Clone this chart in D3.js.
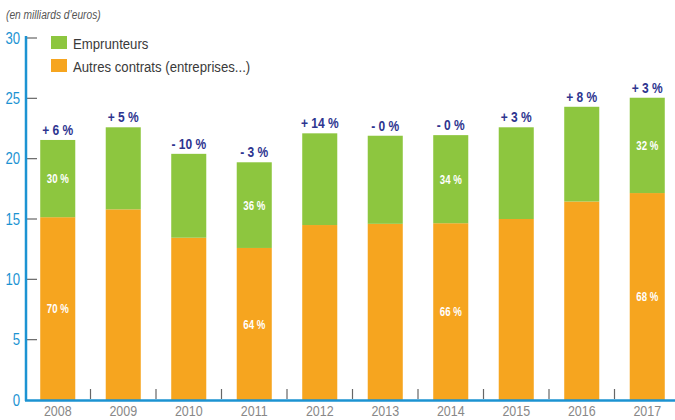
<!DOCTYPE html>
<html><head><meta charset="utf-8">
<script src="https://cdn.jsdelivr.net/npm/d3@7"></script>
<style>
body{margin:0;background:#fff}
text{font-family:"Liberation Sans","Arial",sans-serif}
</style></head>
<body><svg id="c" width="675" height="420"></svg>
<script>
const years = ["2008","2009","2010","2011","2012","2013","2014","2015","2016","2017"];
const autres = [15.15, 15.8, 13.45, 12.6, 14.5, 14.6, 14.65, 15.0, 16.45, 17.15];
const emprunteurs = [6.4, 6.8, 6.95, 7.1, 7.6, 7.3, 7.3, 7.6, 7.85, 7.9];
const changeLabels = ["+ 6 %","+ 5 %","- 10 %","- 3 %","+ 14 %","- 0 %","- 0 %","+ 3 %","+ 8 %","+ 3 %"];
const emprPct = ["30 %","","","36 %","","","34 %","","","32 %"];
const autresPct = ["70 %","","","64 %","","","66 %","","","68 %"];
const yTicks = [0,5,10,15,20,25,30];
const seriesNames = ["Emprunteurs","Autres contrats (entreprises...)"];

const C_GREEN="#8dc63f", C_ORANGE="#f6a51f", C_NAVY="#2e3590", C_BLUE="#1c93d2";

// condense text glyphs horizontally (condensed typeface look)
function condense(sel, f){
  sel.each(function(){
    const w = this.getComputedTextLength();
    d3.select(this).attr("textLength", w*f).attr("lengthAdjust","spacingAndGlyphs");
  });
}

const svg = d3.select("#c");
const y = d3.scaleLinear().domain([0,30]).range([400,38]);
const x = d3.scaleBand().domain(years).range([25,680]).paddingInner(0.465).paddingOuter(0.2325);

// title
svg.append("text").attr("x",6).attr("y",19).attr("font-size",12).attr("font-style","italic")
  .attr("fill","#555").text("(en milliards d\u2019euros)").call(condense,0.85);

// y ticks
const yg = svg.append("g");
yg.selectAll("line").data(yTicks.filter(d=>d>0)).join("line")
  .attr("x1",27).attr("x2",37).attr("y1",d=>y(d)).attr("y2",d=>y(d))
  .attr("stroke","#666").attr("stroke-width",1.2);
yg.selectAll("text").data(yTicks).join("text")
  .attr("x",20).attr("y",d=>y(d)).attr("dy","0.36em").attr("text-anchor","end")
  .attr("font-size",16).attr("fill",C_BLUE).text(d=>d).call(condense,0.82);

// x band boundary ticks
const bounds = years.slice(1).map(d=>x(d) - x.step()*x.paddingInner()/2);
svg.append("g").selectAll("line").data(bounds).join("line")
  .attr("x1",d=>d).attr("x2",d=>d).attr("y1",389).attr("y2",399)
  .attr("stroke","#666").attr("stroke-width",1.2);

// bars
const data = years.map((yr,i)=>({yr, a:autres[i], e:emprunteurs[i], ch:changeLabels[i], ep:emprPct[i], ap:autresPct[i]}));
const g = svg.append("g");
g.selectAll("rect.a").data(data).join("rect").attr("class","a")
  .attr("x",d=>x(d.yr)).attr("width",x.bandwidth())
  .attr("y",d=>y(d.a)).attr("height",d=>y(0)-y(d.a)).attr("fill",C_ORANGE);
g.selectAll("rect.e").data(data).join("rect").attr("class","e")
  .attr("x",d=>x(d.yr)).attr("width",x.bandwidth())
  .attr("y",d=>y(d.a+d.e)).attr("height",d=>y(d.a)-y(d.a+d.e)).attr("fill",C_GREEN);

// change labels
g.selectAll("text.ch").data(data).join("text").attr("class","ch")
  .attr("x",d=>x(d.yr)+x.bandwidth()/2).attr("y",d=>y(d.a+d.e)-5)
  .attr("text-anchor","middle").attr("font-size",15).attr("font-weight","bold")
  .attr("fill",C_NAVY).text(d=>d.ch).call(condense,0.8);

// pct labels
g.selectAll("text.ep").data(data.filter(d=>d.ep)).join("text").attr("class","ep")
  .attr("x",d=>x(d.yr)+x.bandwidth()/2).attr("y",d=>(y(d.a)+y(d.a+d.e))/2).attr("dy","0.36em")
  .attr("text-anchor","middle").attr("font-size",13).attr("font-weight","bold")
  .attr("fill","#fff").text(d=>d.ep).call(condense,0.74);
g.selectAll("text.ap").data(data.filter(d=>d.ap)).join("text").attr("class","ap")
  .attr("x",d=>x(d.yr)+x.bandwidth()/2).attr("y",d=>(y(0)+y(d.a))/2).attr("dy","0.36em")
  .attr("text-anchor","middle").attr("font-size",13).attr("font-weight","bold")
  .attr("fill","#fff").text(d=>d.ap).call(condense,0.74);

// axes lines
svg.append("line").attr("x1",26).attr("x2",26).attr("y1",36).attr("y2",401)
  .attr("stroke",C_BLUE).attr("stroke-width",2.5);
svg.append("line").attr("x1",25).attr("x2",675).attr("y1",400.5).attr("y2",400.5)
  .attr("stroke",C_BLUE).attr("stroke-width",2.5);

// x labels
svg.append("g").selectAll("text").data(years).join("text")
  .attr("x",d=>x(d)+x.bandwidth()/2).attr("y",416).attr("text-anchor","middle")
  .attr("font-size",14.5).attr("fill","#888").text(d=>d).call(condense,0.86);

// legend
const lg = svg.append("g");
const legColors=[C_GREEN,C_ORANGE];
lg.selectAll("rect").data(seriesNames).join("rect")
  .attr("x",51).attr("y",(d,i)=>36+i*23).attr("width",16).attr("height",13)
  .attr("fill",(d,i)=>legColors[i]);
lg.selectAll("text").data(seriesNames).join("text")
  .attr("x",73).attr("y",(d,i)=>43+i*23).attr("dy","0.36em")
  .attr("font-size",15.5).attr("fill","#3a3a3a").text(d=>d).call(condense,0.85);
</script></body></html>
